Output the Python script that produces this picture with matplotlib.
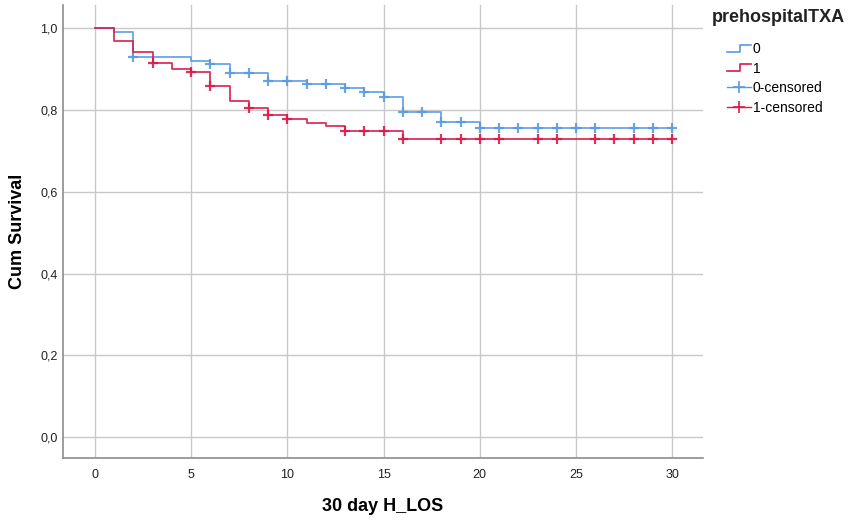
import numpy as np
import matplotlib
matplotlib.use('Agg')
import matplotlib.pyplot as plt
from matplotlib.lines import Line2D
from matplotlib.legend_handler import HandlerBase
from matplotlib.ticker import FuncFormatter

plt.rcParams['font.family'] = ['Liberation Sans', 'DejaVu Sans']

# group 0 (no prehospital TXA)
t0 = [0, 1, 2, 5, 6, 7, 9, 11, 13, 14, 15, 16, 18, 20, 30]
s0 = [1.0, 0.991, 0.930, 0.921, 0.912, 0.890, 0.872, 0.863, 0.853, 0.843, 0.831, 0.796, 0.770, 0.756, 0.756]
cens0 = [2, 6, 7, 8, 9, 10, 11, 12, 13, 14, 15, 16, 17, 18, 19, 20, 21, 22, 23, 24, 25, 26, 28, 29, 30]

# group 1 (prehospital TXA)
t1 = [0, 1, 2, 3, 4, 5, 6, 7, 8, 9, 10, 11, 12, 13, 16, 30]
s1 = [1.0, 0.968, 0.942, 0.916, 0.900, 0.892, 0.858, 0.823, 0.805, 0.787, 0.778, 0.769, 0.760, 0.750, 0.729, 0.729]
cens1 = [3, 5, 6, 8, 9, 10, 13, 14, 15, 16, 18, 19, 20, 21, 23, 24, 26, 27, 28, 29, 30]

x_ticks = [0, 5, 10, 15, 20, 25, 30]
y_ticks = [0.0, 0.2, 0.4, 0.6, 0.8, 1.0]

blue = '#5a9be0'
red = '#d81b4a'


def surv_at(times, surv, pts):
    idx = np.searchsorted(times, pts, side='right') - 1
    return np.array(surv)[idx]


class StepHandler(HandlerBase):
    def create_artists(self, legend, orig_handle, xdescent, ydescent,
                       width, height, fontsize, trans):
        x0 = -xdescent
        xs = [x0, x0 + width * 0.55, x0 + width * 0.55, x0 + width]
        ys = [height * 0.15 - ydescent, height * 0.15 - ydescent,
              height * 0.85 - ydescent, height * 0.85 - ydescent]
        ln = Line2D(xs, ys, color=orig_handle.get_color(), lw=1.2)
        ln.set_transform(trans)
        return [ln]


fig = plt.figure(figsize=(8.5, 5.2), dpi=100)
ax = fig.add_axes([63 / 850, 62 / 520, 640 / 850, 453 / 520])

l0, = ax.step(t0, s0, where='post', color=blue, lw=1.3, alpha=0.9)
ax.plot(cens0, surv_at(t0, s0, cens0), '+', color=blue, ms=7.5, mew=1.6, alpha=0.9)
l1, = ax.step(t1, s1, where='post', color=red, lw=1.3, alpha=0.9)
ax.plot(cens1, surv_at(t1, s1, cens1), '+', color=red, ms=7.5, mew=1.6, alpha=0.9)

ax.set_xlim(-1.66, 31.6)
ax.set_ylim(-0.051, 1.057)
ax.set_xticks(x_ticks)
ax.set_yticks(y_ticks)
ax.yaxis.set_major_formatter(FuncFormatter(lambda v, p: f'{v:.1f}'.replace('.', ',')))
ax.grid(True, color='#c8c8c8', lw=1.0)
ax.set_axisbelow(True)
for side in ['top', 'right']:
    ax.spines[side].set_visible(False)
for side in ['left', 'bottom']:
    ax.spines[side].set_color('#8c8c8c')
    ax.spines[side].set_linewidth(1.2)
ax.tick_params(length=0, labelsize=9, colors='#222222')
ax.tick_params(axis='x', pad=8)
ax.tick_params(axis='y', pad=4)

ax.set_xlabel('30 day H_LOS', fontsize=13, fontweight='bold', labelpad=12)
ax.set_ylabel('Cum Survival', fontsize=13, fontweight='bold', labelpad=10)

fig.text(712 / 850, 1 - 18 / 520, 'prehospitalTXA', fontsize=13, fontweight='bold',
         va='center', ha='left', color='#222222')

h_c0 = Line2D([], [], color=blue, marker='+', ms=9, mew=1.2, lw=1.0)
h_c1 = Line2D([], [], color=red, marker='+', ms=9, mew=1.2, lw=1.0)
fig.legend([l0, l1, h_c0, h_c1], ['0', '1', '0-censored', '1-censored'],
           handler_map={l0: StepHandler(), l1: StepHandler()},
           loc='upper left', bbox_to_anchor=(723 / 850, 1 - 38 / 520),
           frameon=False, fontsize=10, handlelength=1.7, handletextpad=0.15,
           labelspacing=0.4, borderaxespad=0, borderpad=0.3)

fig.savefig('out.png', dpi=100)
